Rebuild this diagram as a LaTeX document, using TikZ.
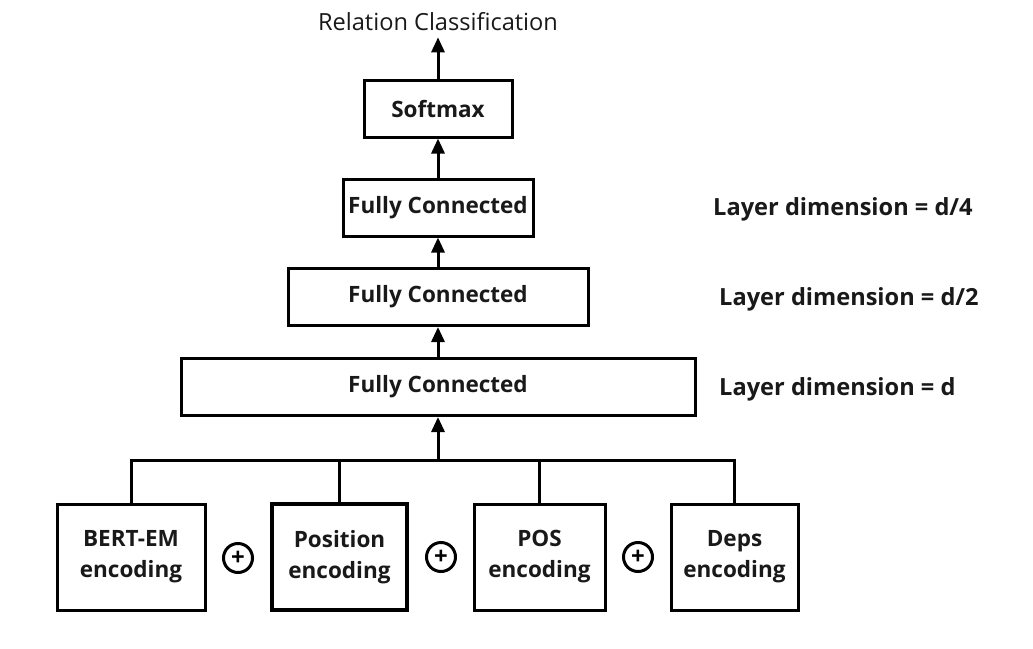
\documentclass[tikz,border=0pt]{standalone}
\usepackage{fontspec}
\setmainfont{Open Sans}
\usetikzlibrary{arrows.meta}

\begin{document}
\begin{tikzpicture}[x=1pt,y=-1pt,
      box/.style={draw=black,line width=3pt,inner sep=0pt,align=center,
        font=\fontsize{22.5}{31}\selectfont\bfseries,text=black!90},
      oplus/.style={draw=black,circle,line width=3pt,minimum size=29pt,inner sep=0pt,
        font=\fontsize{24}{24}\selectfont\bfseries},
      dimlabel/.style={anchor=west,inner sep=0pt,font=\fontsize{23.6}{26}\selectfont\bfseries,text=black!90},
      arr/.style={line width=3pt,-{Triangle[length=15pt,width=13pt]}},
      wire/.style={line width=3pt}]
      \useasboundingbox (0,0) rectangle (1033,648);
      % output
      \node [inner sep=6pt,font=\fontsize{23.6}{26}\selectfont,text=black!90] (rc) at (438,22) {Relation Classification};
      \node [box,minimum width=148pt,minimum height=57pt] (softmax) at (438,108.5) {Softmax};
      \node [box,minimum width=190pt,minimum height=57pt] (fc3) at (438,207.5) {Fully Connected};
      \node [box,minimum width=300pt,minimum height=57pt] (fc2) at (438,297) {Fully Connected};
      \node [box,minimum width=514pt,minimum height=57pt] (fc1) at (438,387) {Fully Connected};
      \draw [arr] (softmax) -- (rc);
      \draw [arr] (fc3) -- (softmax);
      \draw [arr] (fc2) -- (fc3);
      \draw [arr] (fc1) -- (fc2);
      % layer sizes
      \node [dimlabel] (dim3) at (713,209) {Layer dimension = d/4};
      \node [dimlabel] (dim2) at (719,299) {Layer dimension = d/2};
      \node [dimlabel] (dim1) at (719,389) {Layer dimension = d};
      % encodings
      \node [box,minimum width=148pt,minimum height=106pt] (bert) at (131,557) {BERT-EM\\encoding};
      \node [box,line width=4.5pt,minimum width=135pt,minimum height=106pt] (position) at (339.5,557) {Position\\encoding};
      \node [box,minimum width=131pt,minimum height=106pt] (postag) at (539.5,557) {POS\\encoding};
      \node [box,minimum width=127pt,minimum height=106pt] (deps) at (734.5,557) {Deps\\encoding};
      \node [oplus] (plus1) at (238,558) {+};
      \node [oplus] (plus2) at (441,557) {+};
      \node [oplus] (plus3) at (638,557) {+};
      % bus
      \coordinate (bus) at (438,460);
      \draw [wire] (bert.north) |- (bus -| deps.north) -- (deps.north);
      \draw [wire] (position.north) -- (position.north |- bus);
      \draw [wire] (postag.north) -- (postag.north |- bus);
      \draw [arr] (bus) -- (fc1.south);
\end{tikzpicture}
\end{document}
